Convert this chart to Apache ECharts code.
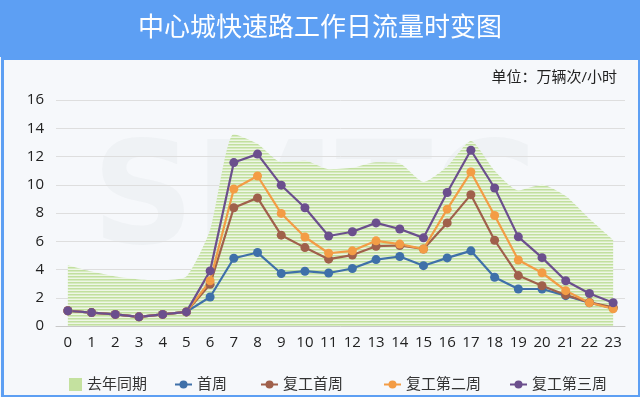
<!DOCTYPE html>
<html>
<head>
<meta charset="utf-8">
<script src="https://cdn.jsdelivr.net/npm/echarts@6/dist/echarts.min.js"></script>
<style>
  html, body { margin: 0; padding: 0; background: #fff; }
  #chart { width: 640px; height: 397px; }
</style>
</head>
<body>
<div id="chart"></div>
<script>
// hours on the x axis
const hours = ['0','1','2','3','4','5','6','7','8','9','10','11','12','13','14','15','16','17','18','19','20','21','22','23']

// 去年同期 (area)
const lastYear = [4.3, 3.85, 3.5, 3.3, 3.25, 3.5, 6.8, 13.6, 12.9, 11.6, 11.7, 11.1, 11.2, 11.6, 11.5, 10.2, 11.3, 13.1, 11.0, 9.6, 10.0, 9.2, 7.6, 6.1]
// 首周
const week0 = [1.08, 0.95, 0.82, 0.65, 0.82, 1.0, 2.05, 4.8, 5.2, 3.72, 3.88, 3.75, 4.07, 4.7, 4.92, 4.27, 4.82, 5.32, 3.45, 2.62, 2.62, 2.15, 1.65, 1.27]
// 复工首周
const week1 = [1.08, 0.95, 0.82, 0.65, 0.82, 1.0, 2.95, 8.37, 9.07, 6.43, 5.55, 4.73, 5.02, 5.65, 5.7, 5.45, 7.3, 9.3, 6.07, 3.57, 2.85, 2.2, 1.67, 1.33]
// 复工第二周
const week2 = [1.08, 0.95, 0.82, 0.65, 0.82, 1.0, 3.2, 9.7, 10.62, 7.97, 6.3, 5.15, 5.32, 6.03, 5.8, 5.45, 8.27, 10.9, 7.82, 4.67, 3.77, 2.5, 1.65, 1.22]
// 复工第三周
const week3 = [1.08, 0.95, 0.82, 0.65, 0.82, 1.0, 3.9, 11.57, 12.17, 9.97, 8.37, 6.37, 6.67, 7.3, 6.87, 6.24, 9.45, 12.44, 9.77, 6.31, 4.84, 3.2, 2.3, 1.65]

const seriesNames = ['去年同期', '首周', '复工首周', '复工第二周', '复工第三周']
const colors = ['#c4e19f', '#3f70a9', '#a0604b', '#f39c45', '#6b4f8d']

// striped fill for the area
function stripes() {
  const c = document.createElement('canvas')
  c.width = 4
  c.height = 3
  const ctx = c.getContext('2d')
  ctx.fillStyle = '#eef6e6'
  ctx.fillRect(0, 0, 4, 3)
  ctx.fillStyle = '#c2df9f'
  ctx.fillRect(0, 0, 4, 1)
  ctx.fillStyle = '#d6ebc0'
  ctx.fillRect(0, 1, 4, 1)
  return c
}

const font = '"Open Sans", "Noto Sans CJK SC", sans-serif'
const chart = echarts.init(document.getElementById('chart'))

const legendLeft = [64, 169, 255, 378, 504]
const legends = seriesNames.map((name, i) => ({
  left: legendLeft[i],
  top: 372,
  itemGap: 0,
  itemWidth: i === 0 ? 13 : 17,
  itemHeight: i === 0 ? 13 : 10,
  textStyle: { fontSize: 15, color: '#333', fontFamily: font },
  data: [i === 0
    ? { name, icon: 'rect', itemStyle: { color: colors[0] } }
    : { name }]
}))

function lineSeries(name, data, color) {
  return {
    name,
    type: 'line',
    data,
    symbol: 'circle',
    symbolSize: 9,
    itemStyle: { color },
    lineStyle: { color, width: 2.2 },
    z: 3
  }
}

chart.setOption({
  backgroundColor: '#f6f8fb',
  animation: false,
  graphic: [
    { type: 'rect', left: 0, top: 0, shape: { width: 640, height: 57 }, style: { fill: '#5d9ff3' }, z: 0 },
    { type: 'rect', left: 0, top: 56, shape: { x: 1, y: 1, width: 637, height: 338 },
      style: { fill: 'none', stroke: '#5d9ff3', lineWidth: 3 }, z: 0 },
    { type: 'text', left: 92, top: 135,
      style: { text: 'SMTC', font: 'bold 142px "DejaVu Sans"', fill: 'rgba(120,130,140,0.05)' }, z: 0 }
  ],
  title: [
    { text: '中心城快速路工作日流量时变图', left: 'center', top: 11,
      textStyle: { color: '#fff', fontSize: 26, fontWeight: 'normal', fontFamily: font } },
    { text: '单位：万辆次/小时', right: 18, top: 65,
      textStyle: { color: '#222', fontSize: 15, fontWeight: 'normal', fontFamily: font } }
  ],
  legend: legends,
  grid: { left: 56, right: 15, top: 100, bottom: 71 },
  xAxis: {
    type: 'category',
    data: hours,
    boundaryGap: true,
    axisLine: { lineStyle: { color: '#c8c8c8' } },
    axisTick: { show: false },
    axisLabel: { color: '#222', fontSize: 15, margin: 9, fontFamily: font }
  },
  yAxis: {
    type: 'value',
    min: 0,
    max: 16,
    interval: 2,
    axisLine: { show: false },
    axisTick: { show: false },
    axisLabel: { color: '#222', fontSize: 15, margin: 12, fontFamily: font },
    splitLine: { lineStyle: { color: '#dedede' } }
  },
  series: [
    {
      name: seriesNames[0],
      type: 'line',
      data: lastYear,
      smooth: 0.2,
      symbol: 'none',
      itemStyle: { color: colors[0] },
      lineStyle: { width: 0 },
      areaStyle: { color: { image: stripes(), repeat: 'repeat' }, opacity: 1 },
      z: 1
    },
    lineSeries(seriesNames[1], week0, colors[1]),
    lineSeries(seriesNames[2], week1, colors[2]),
    lineSeries(seriesNames[3], week2, colors[3]),
    lineSeries(seriesNames[4], week3, colors[4])
  ]
})
</script>
</body>
</html>
